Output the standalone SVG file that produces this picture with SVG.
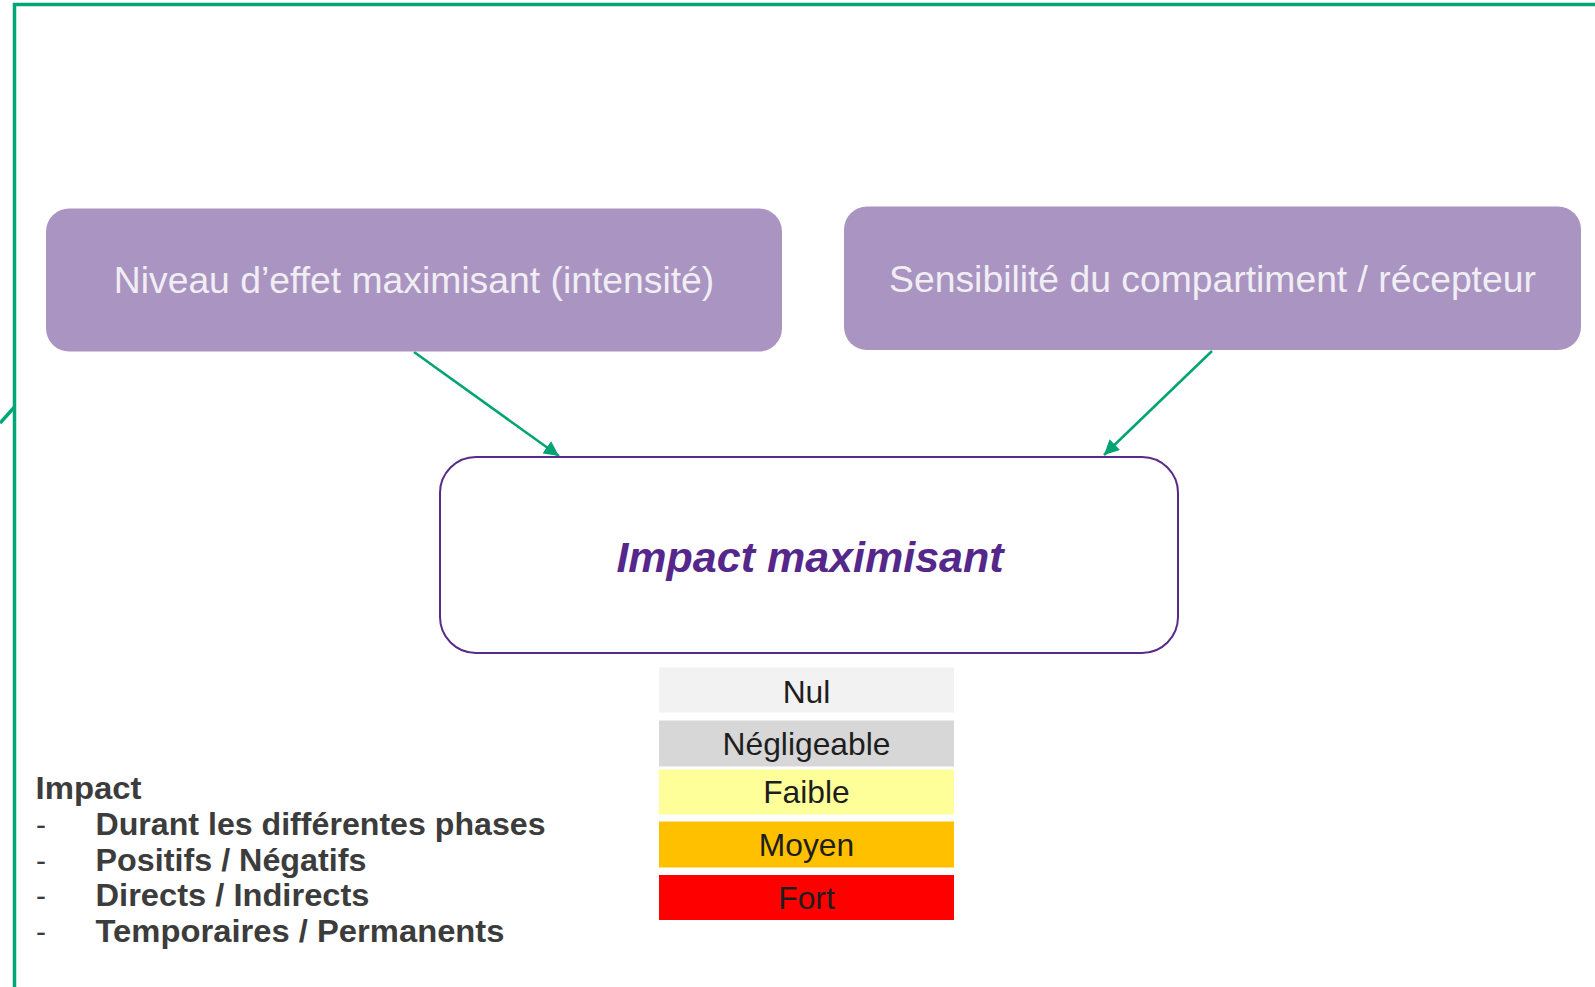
<svg xmlns="http://www.w3.org/2000/svg" width="1595" height="987" viewBox="0 0 1595 987">
<style>
.frame{stroke:#00A676;stroke-width:3.5;fill:none}
.pbox{fill:#AA94C2}
.ptxt{font-family:"Liberation Sans",Arial,sans-serif;font-size:37.3px;fill:#F0EEF2;text-anchor:middle}
.conn{stroke:#00A373;stroke-width:2.5;fill:none}
.leg{font-family:"Liberation Sans",Arial,sans-serif;font-size:31.8px;fill:#1E1E1E;text-anchor:middle}
.note{font-family:"Liberation Sans",Arial,sans-serif;font-weight:bold;font-size:31.2px;fill:#3C3C3C}
.dash{font-family:"Liberation Sans",sans-serif;font-weight:normal;font-size:30px;fill:#3C3C3C}
</style>
<defs>
<marker id="ah" viewBox="0 0 10 10" refX="10" refY="5" markerWidth="6" markerHeight="6" markerUnits="strokeWidth" orient="auto">
<path d="M0,0 L10,5 L0,10 z" fill="#00A373"/>
</marker>
</defs>
<rect width="1595" height="987" fill="#FFFFFF"/>
<g id="frame">
<path class="frame" d="M14.5,987 V4.5 H1595"/>
<path class="frame" d="M0,423 L14.5,407"/>
</g>
<g id="connectors">
<line class="conn" x1="414" y1="352" x2="559" y2="456" marker-end="url(#ah)"/>
<line class="conn" x1="1212" y1="351" x2="1104" y2="455" marker-end="url(#ah)"/>
</g>
<g id="node-niveau">
<rect class="pbox" x="46" y="208.5" width="736" height="143" rx="23"/>
<text class="ptxt" x="414" y="293">Niveau d’effet maximisant (intensité)</text>
</g>
<g id="node-sensibilite">
<rect class="pbox" x="844" y="206.5" width="737" height="143.5" rx="23"/>
<text class="ptxt" x="1212.5" y="292">Sensibilité du compartiment / récepteur</text>
</g>
<g id="node-impact">
<rect x="440" y="457" width="738" height="196" rx="36" fill="#FFFFFF" stroke="#5A2A88" stroke-width="2"/>
<text x="810" y="572" font-family="Liberation Sans,Arial,sans-serif" font-size="43" font-weight="bold" font-style="italic" fill="#55278A" text-anchor="middle">Impact maximisant</text>
</g>
<g id="legend">
<rect x="659" y="667.5" width="295" height="45" fill="#F2F2F2"/>
<text class="leg" x="806.5" y="703">Nul</text>
<rect x="659" y="720.5" width="295" height="46" fill="#D7D7D7"/>
<text class="leg" x="806.5" y="755">Négligeable</text>
<rect x="659" y="769.5" width="295" height="45" fill="#FFFF99"/>
<text class="leg" x="806.5" y="803">Faible</text>
<rect x="659" y="821.5" width="295" height="46" fill="#FFC000"/>
<text class="leg" x="806.5" y="856">Moyen</text>
<rect x="659" y="875" width="295" height="45" fill="#FF0000"/>
<text class="leg" x="806.5" y="909">Fort</text>
</g>
<g id="notes">
<text class="note" x="35.5" y="799" textLength="106" lengthAdjust="spacingAndGlyphs">Impact</text>
<text class="dash" x="36" y="835">-</text>
<text class="note" x="95.5" y="835" textLength="450" lengthAdjust="spacingAndGlyphs">Durant les différentes phases</text>
<text class="dash" x="36" y="871">-</text>
<text class="note" x="95.5" y="871" textLength="271" lengthAdjust="spacingAndGlyphs">Positifs / Négatifs</text>
<text class="dash" x="36" y="906">-</text>
<text class="note" x="95.5" y="906" textLength="274" lengthAdjust="spacingAndGlyphs">Directs / Indirects</text>
<text class="dash" x="36" y="942">-</text>
<text class="note" x="95.5" y="942" textLength="409" lengthAdjust="spacingAndGlyphs">Temporaires / Permanents</text>
</g>
</svg>
